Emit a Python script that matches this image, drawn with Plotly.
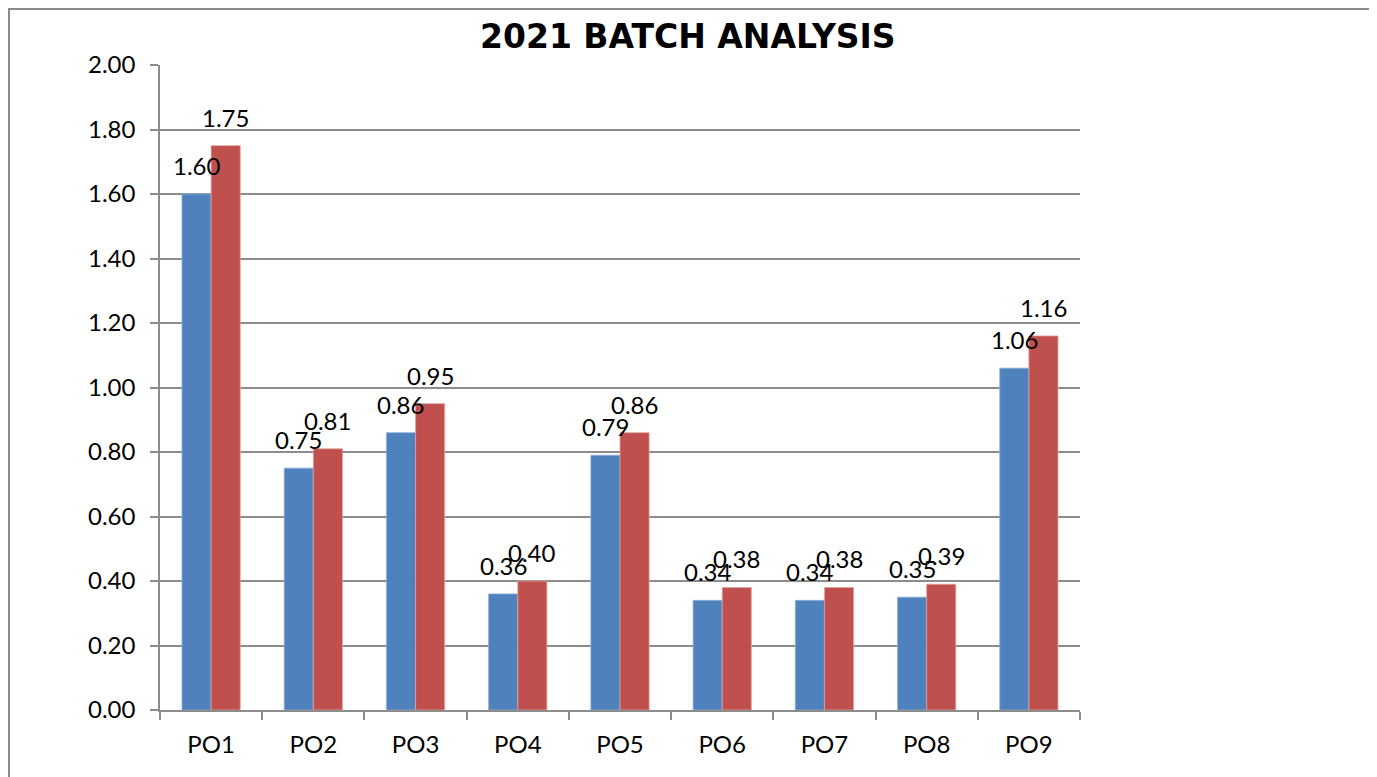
import plotly.graph_objects as go

categories = ["PO1", "PO2", "PO3", "PO4", "PO5", "PO6", "PO7", "PO8", "PO9"]
series_a = [1.60, 0.75, 0.86, 0.36, 0.79, 0.34, 0.34, 0.35, 1.06]
series_b = [1.75, 0.81, 0.95, 0.40, 0.86, 0.38, 0.38, 0.39, 1.16]
y_ticks = [0.0, 0.2, 0.4, 0.6, 0.8, 1.0, 1.2, 1.4, 1.6, 1.8, 2.0]
title_text = "2021 BATCH ANALYSIS"

BLUE = "#4F81BD"
RED = "#C0504D"
GRID = "#8C8C8C"
FONT = "Lato"

# the page adds an 8px body margin; the figure is sized to fit the window
OFF = 8
W, H = 1369, 769
L, R, T, B = 152, 297, 57, 67
plot_w = W - L - R
plot_h = H - T - B
bargap = 0.43
cat_w = plot_w / len(categories)
bar_w = cat_w * (1 - bargap) / 2


def px_x(page_x):
    return (page_x - OFF - L) / plot_w


def px_y(page_y):
    return (H - B + OFF - page_y) / plot_h


fig = go.Figure()
fig.add_trace(go.Bar(x=categories, y=series_a, name="A", marker_color=BLUE,
                     marker_line=dict(width=0.8, color="#8FB0D9")))
fig.add_trace(go.Bar(x=categories, y=series_b, name="B", marker_color=RED,
                     marker_line=dict(width=0.8, color="#E3A3A1")))

annotations = []
for cat, va, vb in zip(categories, series_a, series_b):
    for v, sh in ((va, -bar_w / 2), (vb, bar_w / 2)):
        annotations.append(dict(x=cat, y=v, xref="x", yref="y", text=f"{v:.2f}",
                                showarrow=False, xshift=sh, yshift=12,
                                yanchor="bottom", xanchor="center",
                                font=dict(family=FONT, size=24, color="black")))

annotations.append(dict(x=px_x(688), y=px_y(36), xref="paper", yref="paper",
                        text=f"<b>{title_text}</b>", showarrow=False,
                        xanchor="center", yanchor="middle",
                        font=dict(family="DejaVu Sans", size=33, color="black")))

shapes = [dict(type="rect", xref="paper", yref="paper",
               x0=px_x(OFF + 1), x1=px_x(1372),
               y0=px_y(800), y1=px_y(OFF + 1),
               line=dict(color="#8A8A8A", width=2), fillcolor="rgba(0,0,0,0)", layer="below")]

fig.update_layout(
    width=W, height=H,
    margin=dict(l=L, r=R, t=T, b=B, autoexpand=False),
    paper_bgcolor="white", plot_bgcolor="white",
    barmode="group", bargap=bargap, bargroupgap=0,
    showlegend=False,
    annotations=annotations,
    shapes=shapes,
    font=dict(family=FONT, size=24, color="black"),
)
fig.update_xaxes(
    showline=True, linecolor=GRID, linewidth=1.5,
    ticks="outside", tickson="boundaries", ticklen=8, tickcolor=GRID, tickwidth=1.5,
    tickfont=dict(family=FONT, size=24, color="black"),
    ticklabelstandoff=12,
    showgrid=False,
)
fig.update_yaxes(
    range=[0, 2], tickvals=y_ticks, tickformat=".2f",
    showline=True, linecolor=GRID, linewidth=1.5,
    ticks="outside", ticklen=8, tickcolor=GRID, tickwidth=1.5,
    showgrid=True, gridcolor=GRID, gridwidth=1.5,
    tickfont=dict(family=FONT, size=24, color="black"),
    ticklabelstandoff=10,
    zeroline=False,
)

fig.write_html("out.html")
